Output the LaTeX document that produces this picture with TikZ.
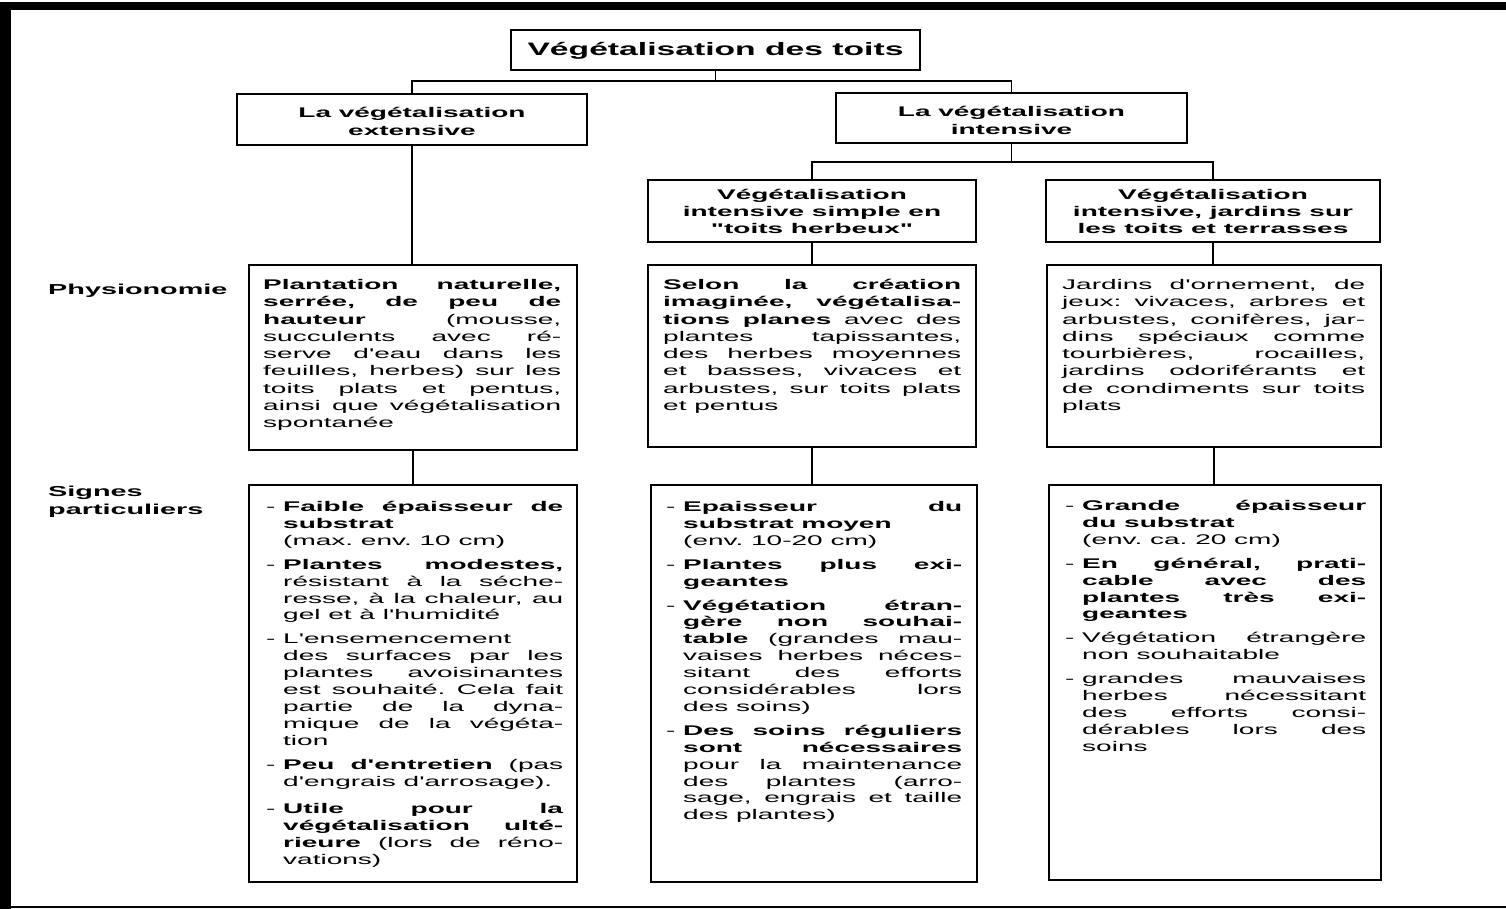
\documentclass[tikz,border=0pt]{standalone}
\usepackage{fontspec}
\setmainfont{Liberation Sans}[FakeStretch=2.0, Ligatures=TeXOff]
\newfontfamily\titlefont{Liberation Sans}[FakeStretch=1.87, Ligatures=TeXOff]
\frenchspacing
\newcommand\J[1]{\leavevmode\hbox to \linewidth{\spaceskip=\fontdimen2\font plus 1fil\relax #1}}
\newcommand\D{\leavevmode\llap{\hbox to 17pt{-\hfil}}}
\tikzset{
  box/.style={draw, line width=1.6pt, inner sep=0pt},
  conn/.style={line width=1.6pt},
  txt/.style={anchor=base west, inner sep=0pt, align=flush left, font=\fontsize{14}{17.25}\selectfont},
  sig/.style={txt, font=\fontsize{14}{16.9}\selectfont},
  head/.style={align=center, inner sep=0pt, font=\fontsize{14}{18}\selectfont\bfseries},
  lab/.style={anchor=base west, inner sep=0pt, align=flush left, font=\fontsize{14.4}{18}\selectfont\bfseries}
}
\begin{document}
\begin{tikzpicture}[x=1pt,y=-1pt]
\useasboundingbox (0,0) rectangle (1506,909);
% frame
\fill (0,2) rectangle (1506,10);
\fill (0,2) rectangle (11,909);
\fill (11,905.5) rectangle (1506,907.5);

% boxes
\node[box, minimum width=409pt, minimum height=40pt] (title) at (715.5,50) {};
\node[box, minimum width=350pt, minimum height=51pt] (ext) at (412,119.5) {};
\node[box, minimum width=351pt, minimum height=50pt] (int) at (1011.5,118) {};
\node[box, minimum width=328pt, minimum height=62pt] (sub1) at (812,211) {};
\node[box, minimum width=334pt, minimum height=62pt] (sub2) at (1213,211) {};
\node[box, minimum width=328pt, minimum height=185pt] (physL) at (413,357.5) {};
\node[box, minimum width=328pt, minimum height=182pt] (physM) at (812,356) {};
\node[box, minimum width=334pt, minimum height=182pt] (physR) at (1214,356) {};
\node[box, minimum width=328pt, minimum height=397pt] (sigL) at (413,683.5) {};
\node[box, minimum width=326pt, minimum height=397pt] (sigM) at (814,683.5) {};
\node[box, minimum width=332pt, minimum height=395pt] (sigR) at (1215,682.5) {};

% connectors
\coordinate (j1) at (715.5,81);
\coordinate (j2) at (1011.5,162);
\draw[conn] (title) -- (j1);
\draw[conn] (ext.north) |- (j1) -| (int.north);
\draw[conn] (int) -- (j2);
\draw[conn] (sub1.north) |- (j2) -| (sub2.north);
\draw[conn] (ext.south) -- (ext.south |- physL.north);
\draw[conn] (sub1.south) -- (sub1.south |- physM.north);
\draw[conn] (sub2.south) -- (sub2.south |- physR.north);
\draw[conn] (physL.south) -- (physL.south |- sigL.north);
\draw[conn] (physM.south) -- (physM.south |- sigM.north);
\draw[conn] (physR.south) -- (physR.south |- sigR.north);

% titles
\node[inner sep=0pt, font=\titlefont\fontsize{18}{20}\selectfont\bfseries] (titletxt) at (715.5,51) {Végétalisation des toits};
\node[head] (exttxt) at (412,121) {La végétalisation\\extensive};
\node[head] (inttxt) at (1011.5,120) {La végétalisation\\intensive};
\node[head, font=\fontsize{14}{17}\selectfont\bfseries] (sub1txt) at (812,211) {Végétalisation\\intensive simple en\\"toits herbeux"};
\node[head, font=\fontsize{14}{17}\selectfont\bfseries] (sub2txt) at (1213,211) {Végétalisation\\intensive, jardins sur\\les toits et terrasses};

% row labels
\node[lab] (physlab) at (48,294) {Physionomie};
\node[lab] (siglab) at (48,514) {Signes\\particuliers};

% physionomie texts
\node[txt, text width=298pt] (physLtxt) at (263,289.5) {%
\J{\textbf{Plantation naturelle,}}\\
\J{\textbf{serrée, de peu de}}\\
\J{\textbf{hauteur} (mousse,}\\
\J{succulents avec ré-}\\
\J{serve d'eau dans les}\\
\J{feuilles, herbes) sur les}\\
\J{toits plats et pentus,}\\
\J{ainsi que végétalisation}\\
spontanée};

\node[txt, text width=298pt] (physMtxt) at (663,289.5) {%
\J{\textbf{Selon la création}}\\
\J{\textbf{imaginée, végétalisa-}}\\
\J{\textbf{tions planes} avec des}\\
\J{plantes tapissantes,}\\
\J{des herbes moyennes}\\
\J{et basses, vivaces et}\\
\J{arbustes, sur toits plats}\\
et pentus};

\node[txt, text width=303pt] (physRtxt) at (1062,289.5) {%
\J{Jardins d'ornement, de}\\
\J{jeux: vivaces, arbres et}\\
\J{arbustes, conifères, jar-}\\
\J{dins spéciaux comme}\\
\J{tourbières, rocailles,}\\
\J{jardins odoriférants et}\\
\J{de condiments sur toits}\\
plats};

% signes texts
\node[sig, text width=280pt] (sigLtxt) at (283,511.5) {%
\J{\D\textbf{Faible épaisseur de}}\\
\textbf{substrat}\\
(max. env. 10 cm)\\[7pt]
\J{\D\textbf{Plantes modestes,}}\\
\J{résistant à la séche-}\\
\J{resse, à la chaleur, au}\\
gel et à l'humidité\\[7pt]
\D L'ensemencement\\
\J{des surfaces par les}\\
\J{plantes avoisinantes}\\
\J{est souhaité. Cela fait}\\
\J{partie de la dyna-}\\
\J{mique de la végéta-}\\
tion\\[7pt]
\J{\D\textbf{Peu d'entretien} (pas}\\
\leavevmode\hbox{d'engrais d'arrosage).}\\[11pt]
\J{\D\textbf{Utile pour la}}\\
\J{\textbf{végétalisation ulté-}}\\
\J{\textbf{rieure} (lors de réno-}\\
vations)};

\node[sig, text width=279pt] (sigMtxt) at (683,511.5) {%
\J{\D\textbf{Epaisseur du}}\\
\textbf{substrat moyen}\\
(env. 10-20 cm)\\[7pt]
\J{\D\textbf{Plantes plus exi-}}\\
\textbf{geantes}\\[7pt]
\J{\D\textbf{Végétation étran-}}\\
\J{\textbf{gère non souhai-}}\\
\J{\textbf{table} (grandes mau-}\\
\J{vaises herbes néces-}\\
\J{sitant des efforts}\\
\J{considérables lors}\\
des soins)\\[7pt]
\J{\D\textbf{Des soins réguliers}}\\
\J{\textbf{sont nécessaires}}\\
\J{pour la maintenance}\\
\J{des plantes (arro-}\\
\J{sage, engrais et taille}\\
des plantes)};

\node[sig, text width=284pt] (sigRtxt) at (1082,510.5) {%
\J{\D\textbf{Grande épaisseur}}\\
\textbf{du substrat}\\
(env. ca. 20 cm)\\[7pt]
\J{\D\textbf{En général, prati-}}\\
\J{\textbf{cable avec des}}\\
\J{\textbf{plantes très exi-}}\\
\textbf{geantes}\\[7pt]
\J{\D Végétation étrangère}\\
non souhaitable\\[7pt]
\J{\D grandes mauvaises}\\
\J{herbes nécessitant}\\
\J{des efforts consi-}\\
\J{dérables lors des}\\
soins};
\end{tikzpicture}
\end{document}
